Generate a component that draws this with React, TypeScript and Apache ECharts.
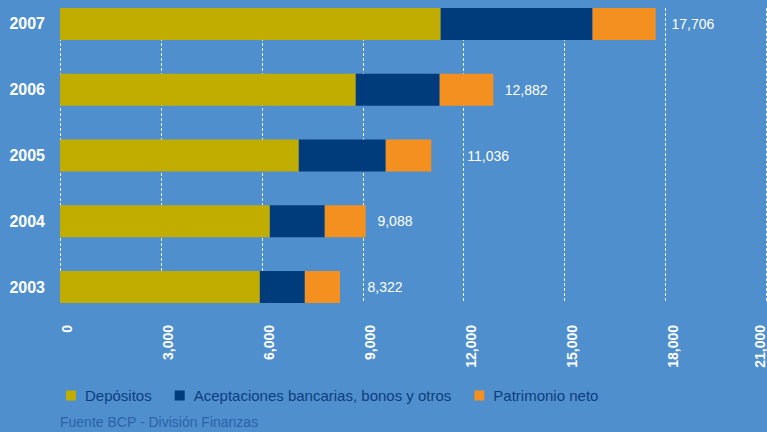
import React, { useEffect, useRef } from 'react';
import * as echarts from 'echarts';

const years = ['2003', '2004', '2005', '2006', '2007'];
const depositos = [5940, 6237, 7098, 8791, 11316];
const aceptaciones = [1337, 1633, 2584, 2495, 4514];
const patrimonio = [1045, 1218, 1354, 1596, 1876];
const totals = [8322, 9088, 11036, 12882, 17706];
const seriesNames = ['Depósitos', 'Aceptaciones bancarias, bonos y otros', 'Patrimonio neto'];
const source = 'Fuente BCP - División Finanzas';

// horizontal shift of each total label from its bar's end (style)
const labelGap = [27.5, 11.7, 36, 11.3, 15.8];

const fmt = (v: number) => v.toLocaleString('en-US');

export default function App() {
  const ref = useRef<HTMLDivElement>(null);
  useEffect(() => {
    const chart = echarts.init(ref.current!, null, { renderer: 'svg' });
    const font = 'Liberation Sans, Arial, sans-serif';
    chart.setOption({
      animation: false,
      backgroundColor: '#508fcd',
      grid: [
        { left: 60, right: 0.5, top: -9, bottom: 112, outerBoundsMode: 'none', containLabel: false },
        { left: 60, right: 0.5, top: 8, bottom: 129, outerBoundsMode: 'none', containLabel: false },
      ],
      xAxis: [
        { gridIndex: 0, type: 'value', min: 0, max: 21000, interval: 3000, show: false },
        {
          gridIndex: 1, type: 'value', min: 0, max: 21000, interval: 3000, position: 'bottom',
          axisLine: { show: false }, axisTick: { show: false },
          splitLine: { show: true, lineStyle: { type: [3, 2], color: 'rgba(255,255,255,0.9)', width: 1 } },
          axisLabel: {
            rotate: 90, margin: 22, color: '#ffffff', fontWeight: 'bold', fontSize: 14,
            fontFamily: font, showMinLabel: true, showMaxLabel: true,
            verticalAlign: 'top', verticalAlignMaxLabel: 'bottom',
            formatter: (v: number) => fmt(v),
          },
        },
      ],
      yAxis: [
        {
          gridIndex: 0, type: 'category', data: years,
          axisLine: { show: false }, axisTick: { show: false }, splitLine: { show: false },
          axisLabel: { margin: 15, color: '#ffffff', fontWeight: 'bold', fontSize: 16, fontFamily: font },
        },
        { gridIndex: 1, type: 'value', min: 0, max: 1, show: false },
      ],
      legend: {
        data: seriesNames,
        left: 61, top: 383,
        icon: 'rect', itemWidth: 10, itemHeight: 10, itemGap: 23,
        selectedMode: false,
        textStyle: { color: '#0c3e7e', fontSize: 15, fontFamily: font, padding: [0, 0, 0, 4] },
      },
      graphic: [
        {
          type: 'text', left: 60, top: 415,
          style: { text: source, fill: '#2a62a8', fontSize: 14, fontFamily: font },
        },
      ],
      series: [
        {
          name: seriesNames[0], type: 'bar', stack: 'total', barWidth: 32,
          xAxisIndex: 0, yAxisIndex: 0, itemStyle: { color: '#c1ad00' }, data: depositos,
        },
        {
          name: seriesNames[1], type: 'bar', stack: 'total', barWidth: 32,
          xAxisIndex: 0, yAxisIndex: 0, itemStyle: { color: '#003b7c' }, data: aceptaciones,
        },
        {
          name: seriesNames[2], type: 'bar', stack: 'total', barWidth: 32,
          xAxisIndex: 0, yAxisIndex: 0, itemStyle: { color: '#f3901f' },
          label: {
            show: true, position: 'right', distance: 0, color: '#ffffff', fontSize: 14, fontFamily: font,
            formatter: (p: any) => fmt(totals[p.dataIndex]),
          },
          data: patrimonio.map((v, i) => ({ value: v, label: { offset: [labelGap[i], 0] } })),
        },
      ],
    });
    return () => chart.dispose();
  }, []);
  return (
    <div
      ref={ref}
      style={{ position: 'fixed', left: 0, top: 0, width: 767, height: 432 }}
    />
  );
}
